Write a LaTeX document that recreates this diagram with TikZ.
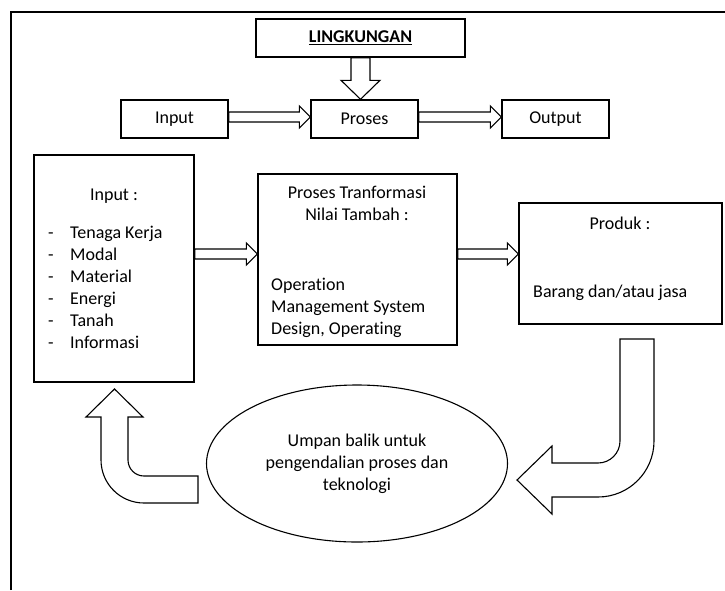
\documentclass[tikz,border=0pt]{standalone}
\usepackage{fontspec}
\setmainfont{Carlito}[Ligatures=NoCommon]
\usetikzlibrary{shapes.geometric, calc}
\tikzstyle{sysbox} = [rectangle, draw=black, line width=1.4pt, inner sep=0pt]
\tikzstyle{txt} = [inner sep=0pt]
\tikzstyle{blockline} = [draw=black, line width=1.1pt, fill=white]
\tikzstyle{feedback} = [ellipse, draw=black, line width=1.1pt, minimum width=301pt, minimum height=157pt, inner sep=0pt, align=center]
\newcommand{\itm}{-\hspace{16.5pt}}
% hollow block arrow: from, to, shaft half width, head half width, head length
\newcommand{\fatarrow}[5]{%
  \coordinate (fa-a) at (#1);
  \coordinate (fa-b) at (#2);
  \coordinate (fa-h) at ($(fa-b)!#5!(fa-a)$);
  \draw[blockline] ($(fa-a)!#3!90:(fa-b)$) -- ($(fa-h)!#3!-90:(fa-a)$) -- ($(fa-h)!#4!-90:(fa-a)$) -- (fa-b)
    -- ($(fa-h)!#4!90:(fa-a)$) -- ($(fa-h)!#3!90:(fa-a)$) -- ($(fa-a)!#3!-90:(fa-b)$) -- cycle;}
\begin{document}
\begin{tikzpicture}[x=1pt, y=-1pt, font=\fontsize{18}{22}\selectfont]
    \useasboundingbox (0,0) rectangle (725,590);
    \draw[line width=1.4pt] (11,590) -- (11,12) -- (725,12);

    \node at (360.5,38) [sysbox, minimum width=209pt, minimum height=38pt] (env) {\underline{\textbf{LINGKUNGAN}}};
    \node at (174.5,119) [sysbox, minimum width=107pt, minimum height=38pt] (in1) {Input};
    \node at (364.5,119) [sysbox, minimum width=107pt, minimum height=38pt] (proses) {Proses};
    \node at (555.5,119) [sysbox, minimum width=107pt, minimum height=38pt] (output) {Output};

    \node at (114,268.5) [sysbox, minimum width=160pt, minimum height=227pt] (inbox) {};
    \node at (357.5,259.5) [sysbox, minimum width=199pt, minimum height=171pt] (trans) {};
    \node at (620.5,263.5) [sysbox, minimum width=203pt, minimum height=121pt] (produk) {};
    \node at (357,463.5) [feedback] (umpan) {Umpan balik untuk\\pengendalian proses dan\\teknologi};

    \node at (114,196) [txt] (intitle) {Input :};
    \node at (48,287) [txt, anchor=west, align=left] (inlist) {\itm Tenaga Kerja\\\itm Modal\\\itm Material\\\itm Energi\\\itm Tanah\\\itm Informasi};
    \node at (357,203.5) [txt, align=center] (transtitle) {Proses Tranformasi\\Nilai Tambah :};
    \node at (271,307.5) [txt, anchor=west, align=left] (transtext) {Operation\\Management System\\Design, Operating};
    \node at (620,223) [txt] (produktitle) {Produk :};
    \node at (533,293) [txt, anchor=west] (produktext) {Barang dan/atau jasa};

    \coordinate (midrow) at (0,254);
    \fatarrow{env.south}{env.south |- proses.north}{9.5pt}{19.5pt}{19pt}
    \fatarrow{$(in1.east)+(0,-2)$}{$(proses.west)+(0,-2)$}{5pt}{11pt}{11pt}
    \fatarrow{$(proses.east)+(0,-2)$}{$(output.west)+(0,-2)$}{5pt}{11pt}{11pt}
    \fatarrow{inbox.east |- midrow}{trans.west |- midrow}{5pt}{11pt}{11pt}
    \fatarrow{trans.east |- midrow}{produk.west |- midrow}{5pt}{11pt}{11pt}

    % feedback arrows
    \draw[blockline] (620,339) -- (654,339) -- (654,441) arc[start angle=0, end angle=-90, radius=56pt]
        -- (552,497) -- (552,514) -- (517,480) -- (552,446) -- (552,463) -- (598,463)
        arc[start angle=-90, end angle=0, radius=22pt] -- cycle;
    \draw[blockline] (198,476) -- (198,503) -- (144,503) arc[start angle=-90, end angle=-180, radius=43pt]
        -- (101,417) -- (86,417) -- (114.5,389) -- (143,417) -- (128,417) -- (128,460)
        arc[start angle=180, end angle=270, radius=16pt] -- cycle;
\end{tikzpicture}
\end{document}
